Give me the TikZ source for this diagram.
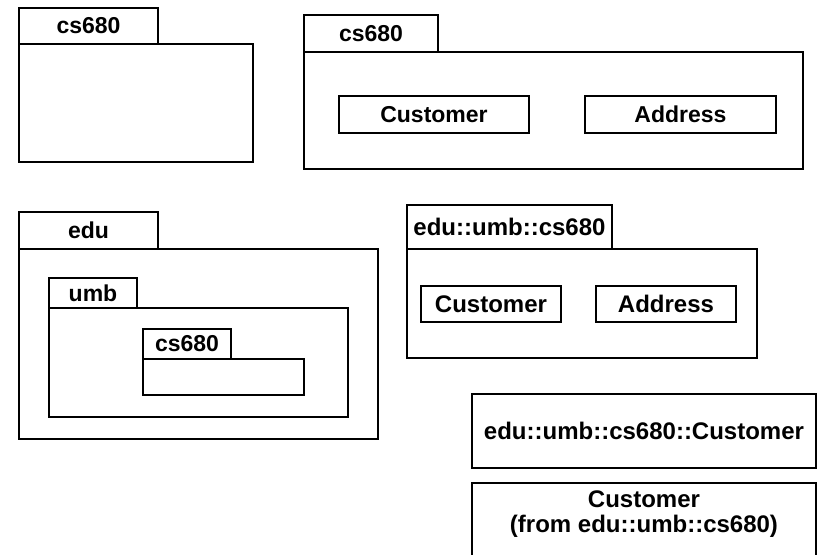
\documentclass[tikz,border=0pt]{standalone}
\usepackage{fontspec}
\setmainfont{Liberation Sans}
\begin{document}
\begin{tikzpicture}[x=1pt,y=-1pt,
  box/.style={draw, line width=1.8pt, anchor=north west, inner sep=0pt, outer sep=0pt},
  lbl/.style={font=\fontsize{23}{27}\selectfont\bfseries},
  lblb/.style={font=\fontsize{24}{25}\selectfont\bfseries},
]
\useasboundingbox (0,0) rectangle (832,554);
\clip (0,0) rectangle (832,554);
% package 1
\node[box, minimum width=234pt, minimum height=118pt] (p1body) at (19,44) {};
\node[box, lbl, minimum width=139pt, minimum height=36pt] (p1tab) at (19,8) {cs680};
% package 2
\node[box, minimum width=499pt, minimum height=117pt] (p2body) at (304,52) {};
\node[box, lbl, minimum width=134pt, minimum height=37pt] (p2tab) at (304,15) {cs680};
\node[box, lbl, minimum width=190pt, minimum height=37pt] (p2cust) at (339,96) {Customer};
\node[box, lbl, minimum width=191pt, minimum height=37pt] (p2addr) at (585,96) {Address};
% package 3 nested
\node[box, minimum width=359pt, minimum height=190pt] (edubody) at (19,249) {};
\node[box, lbl, minimum width=139pt, minimum height=37pt] (edutab) at (19,212) {edu};
\node[box, minimum width=299pt, minimum height=109pt] (umbbody) at (49,308) {};
\node[box, lbl, minimum width=88pt, minimum height=30pt] (umbtab) at (49,278) {umb};
\node[box, minimum width=161pt, minimum height=36pt] (csbody) at (143,359) {};
\node[box, lbl, minimum width=88pt, minimum height=30pt] (cstab) at (143,329) {cs680};
% package 4
\node[box, minimum width=350pt, minimum height=109pt] (p4body) at (407,249) {};
\node[box, lblb, minimum width=205pt, minimum height=44pt] (p4tab) at (407,205) {edu::umb::cs680};
\node[box, lblb, minimum width=140pt, minimum height=36pt] (p4cust) at (421,286) {Customer};
\node[box, lblb, minimum width=140pt, minimum height=36pt] (p4addr) at (596,286) {Address};
% class boxes
\node[box, lblb, minimum width=344pt, minimum height=74pt] (full) at (472,394) {edu::umb::cs680::Customer};
\node[box, minimum width=344pt, minimum height=90pt] (from) at (472,483) {};
\node[lblb, align=center, anchor=base] (fromtxt) at (644,532) {Customer\\(from edu::umb::cs680)};
\end{tikzpicture}
\end{document}
